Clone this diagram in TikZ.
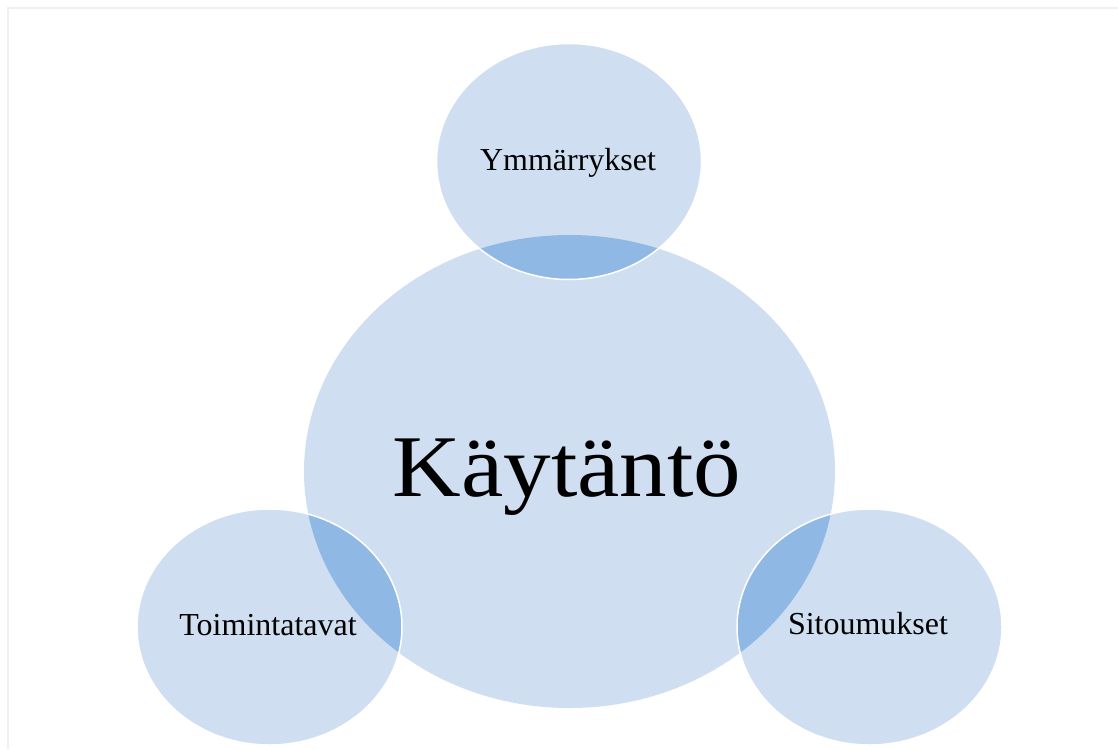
\documentclass[tikz,border=0pt]{standalone}
\usepackage{fontspec}
\usepackage{graphicx}
\setmainfont{Liberation Serif}
\definecolor{lite}{HTML}{CFDFF1}
\definecolor{deep}{HTML}{8FB8E4}
\definecolor{framecol}{HTML}{EDF1F6}
\tikzset{
  smallell/.style={x radius=132.5, y radius=118},
  bigell/.style={x radius=265.5, y radius=236.5},
  smalllabel/.style={anchor=base, inner sep=0pt, font=\fontsize{32}{36}\selectfont},
  biglabel/.style={anchor=base, inner sep=0pt, font=\fontsize{88}{96}\selectfont}
}
\begin{document}
\begin{tikzpicture}[x=1pt,y=-1pt]
\useasboundingbox (0,0) rectangle (1118,749);
\fill[white] (0,0) rectangle (1118,749);
\draw[framecol, line width=2pt] (8,749) -- (8,8) -- (1118,8);
\coordinate (cB) at (569.5,471.5);
\coordinate (cT) at (569,161.5);
\coordinate (cL) at (269.5,627);
\coordinate (cR) at (869.5,627);
\fill[lite] (cB) ellipse [bigell];
\foreach \c in {cT,cL,cR} {\fill[lite] (\c) ellipse [smallell];}
\foreach \c in {cT,cL,cR} {
  \begin{scope}
    \clip (cB) ellipse [bigell];
    \fill[deep] (\c) ellipse [smallell];
  \end{scope}
}
\foreach \c in {cT,cL,cR} {\draw[white, line width=1.5pt] (\c) ellipse [smallell];}
\node[biglabel] (kay) at (567,496) {\scalebox{1.08}[1]{Käytäntö}};
\node[smalllabel] (ymm) at (568,170) {Ymmärrykset};
\node[smalllabel] (toi) at (268,635) {Toimintatavat};
\node[smalllabel] (sit) at (868,634) {Sitoumukset};
\end{tikzpicture}
\end{document}
